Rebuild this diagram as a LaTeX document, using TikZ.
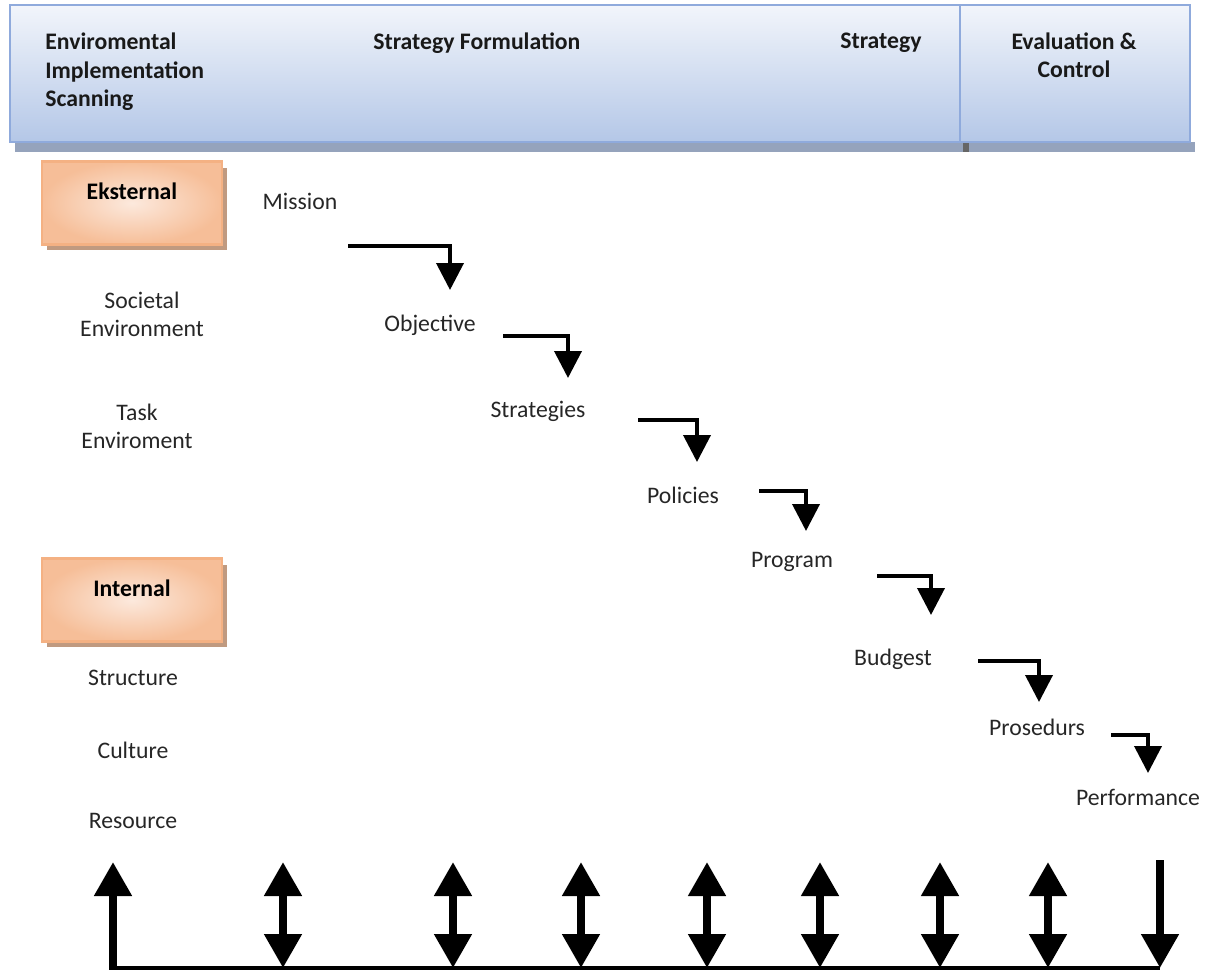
\documentclass[tikz,border=0pt]{standalone}
\usepackage{fontspec}
\setmainfont{Carlito}
\usetikzlibrary{arrows.meta,shadows}

\definecolor{hdrtop}{HTML}{F2F5FB}
\definecolor{hdrbottom}{HTML}{B4C7E7}
\definecolor{hdrline}{HTML}{8FAADC}
\definecolor{hdrshadow}{HTML}{95A3BC}
\definecolor{boxline}{HTML}{F4B183}
\definecolor{boxinner}{HTML}{FCE9DD}
\definecolor{boxouter}{HTML}{F6BE98}
\definecolor{boxshadow}{HTML}{C09A80}

\tikzset{
  txt/.style={font=\fontsize{13.5}{16}\selectfont, text=black!85, inner sep=0pt},
  hdr/.style={font=\fontsize{13.5}{16}\selectfont\bfseries, text=black!90, inner sep=0pt},
  sidebox/.style={draw=boxline, line width=1.5pt, inner color=boxinner, outer color=boxouter,
    minimum width=3.6cm, minimum height=1.66cm, inner sep=0pt,
    text height=0.4cm, text depth=0.54cm,
    font=\fontsize{13.5}{16}\selectfont\bfseries,
    drop shadow={shadow xshift=0.1cm, shadow yshift=-0.12cm, fill=boxshadow, opacity=1}},
  elbow/.style={line width=2.2pt, -{Triangle[width=0.54cm, length=0.54cm]}},
  upline/.style={line width=4.5pt, -{Triangle[width=0.72cm, length=0.68cm]}},
  bothline/.style={line width=4.5pt, {Triangle[width=0.72cm, length=0.68cm]}-{Triangle[width=0.72cm, length=0.68cm]}}
}

\begin{document}
\begin{tikzpicture}[x=0.02cm, y=-0.02cm]

  \useasboundingbox (0,0) rectangle (1209,979);

  % header band
  \fill[hdrshadow] (15,142) rectangle (1195,152);
  \fill[black!60] (963,142) rectangle (969,152);
  \shade[top color=hdrtop, bottom color=hdrbottom] (10,5) rectangle (1190,142);
  \draw[hdrline, line width=1.5pt] (10,5) rectangle (1190,142);
  \draw[hdrline, line width=1.5pt] (960,5) -- (960,142);

  \node[hdr, align=left, anchor=north west] (scan) at (45,33) {Enviromental\\Implementation\\Scanning};
  \node[hdr, anchor=west] (formulation) at (373,43) {Strategy Formulation};
  \node[hdr, anchor=west] (strategy) at (840,43) {Strategy};
  \node[hdr, align=center] (evaluation) at (1074,55) {Evaluation \&\\Control};

  % left column
  \node[sidebox] (eksternal) at (132,203) {Eksternal};
  \node[sidebox] (internal) at (132,600) {Internal};

  \node[txt, align=center] (societal) at (142,314) {Societal\\Environment};
  \node[txt, align=center] (task) at (137,426) {Task\\Enviroment};
  \node[txt] (structure) at (133,678) {Structure};
  \node[txt] (culture) at (133,750) {Culture};
  \node[txt] (resource) at (133,821) {Resource};

  % cascade
  \node[txt] (mission) at (300,201) {Mission};
  \node[txt] (objective) at (430,325) {Objective};
  \node[txt] (strategies) at (538,411) {Strategies};
  \node[txt] (policies) at (683,495) {Policies};
  \node[txt] (program) at (792,562) {Program};
  \node[txt] (budgest) at (893,659) {Budgest};
  \node[txt] (prosedurs) at (1037,727) {Prosedurs};
  \node[txt] (performance) at (1138,797) {Performance};

  \coordinate (m1) at (348,246);  \coordinate (n1) at (450,290);
  \coordinate (m2) at (503,336);  \coordinate (n2) at (568,378);
  \coordinate (m3) at (638,420);  \coordinate (n3) at (697,462);
  \coordinate (m4) at (759,491);  \coordinate (n4) at (806,531);
  \coordinate (m5) at (877,576);  \coordinate (n5) at (931,615);
  \coordinate (m6) at (978,661);  \coordinate (n6) at (1039,702);
  \coordinate (m7) at (1111,735); \coordinate (n7) at (1148,773);

  \draw[elbow] (m1) -| (n1);
  \draw[elbow] (m2) -| (n2);
  \draw[elbow] (m3) -| (n3);
  \draw[elbow] (m4) -| (n4);
  \draw[elbow] (m5) -| (n5);
  \draw[elbow] (m6) -| (n6);
  \draw[elbow] (m7) -| (n7);

  % feedback bar
  \coordinate (f1) at (113,968);  \coordinate (g1) at (113,862);
  \coordinate (f2) at (283,968);  \coordinate (g2) at (283,862);
  \coordinate (f3) at (453,968);  \coordinate (g3) at (453,862);
  \coordinate (f4) at (581,968);  \coordinate (g4) at (581,862);
  \coordinate (f5) at (707,968);  \coordinate (g5) at (707,862);
  \coordinate (f6) at (820,968);  \coordinate (g6) at (820,862);
  \coordinate (f7) at (940,968);  \coordinate (g7) at (940,862);
  \coordinate (f8) at (1048,968); \coordinate (g8) at (1048,862);
  \coordinate (f9) at (1160,968); \coordinate (g9) at (1160,860);

  \draw[line width=2.8pt] ([xshift=-2.25pt]f1) -- (f9);
  \draw[upline] ([yshift=1.4pt]f1) -- (g1);
  \draw[bothline] (f2) -- (g2);
  \draw[bothline] (f3) -- (g3);
  \draw[bothline] (f4) -- (g4);
  \draw[bothline] (f5) -- (g5);
  \draw[bothline] (f6) -- (g6);
  \draw[bothline] (f7) -- (g7);
  \draw[bothline] (f8) -- (g8);
  \draw[upline] (g9) -- (f9);

\end{tikzpicture}
\end{document}
